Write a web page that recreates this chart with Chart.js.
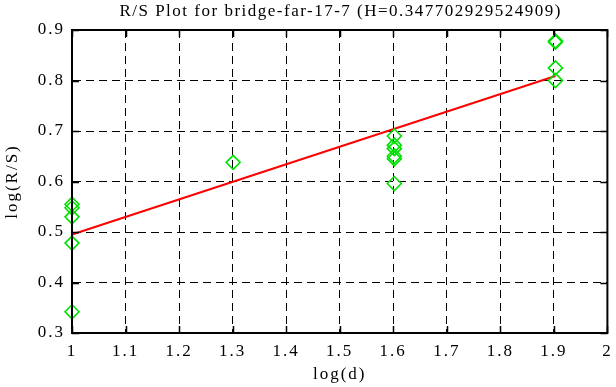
<!DOCTYPE html>
<html>
<head>
<meta charset="utf-8">
<script src="https://cdn.jsdelivr.net/npm/chart.js@4/dist/chart.umd.min.js"></script>
<style>
  html, body { margin: 0; padding: 0; background: #fff; }
  #wrap { width: 616px; height: 387px; }
</style>
</head>
<body>
<div id="wrap"><canvas id="rsChart" width="616" height="387"></canvas></div>
<script>
// R/S samples: log(d) against log(R/S)
const logD  = [1, 1, 1, 1, 1, 1.301, 1.602, 1.602, 1.602, 1.602, 1.602, 1.602, 1.903, 1.903, 1.903, 1.903];
const logRS = [0.555, 0.548, 0.53, 0.478, 0.342, 0.638, 0.69, 0.672, 0.665, 0.65, 0.645, 0.596, 0.878, 0.876, 0.825, 0.80];

// fitted line end points
const fitX = [1, 1.903];
const fitY = [0.495, 0.809];

const xTicks = [1, 1.1, 1.2, 1.3, 1.4, 1.5, 1.6, 1.7, 1.8, 1.9, 2];
const yTicks = [0.3, 0.4, 0.5, 0.6, 0.7, 0.8, 0.9];

const titleText = "R/S Plot for bridge-far-17-7 (H=0.347702929524909)";
const serif = "'Liberation Serif', 'DejaVu Serif', serif";

// gnuplot text is wider spaced than the browser serif
const spacing = {
    id: "spacing",
    beforeLayout(chart) { chart.ctx.letterSpacing = "2px"; },
    beforeDraw(chart) { chart.ctx.letterSpacing = "2px"; }
};

// gnuplot-like frame, inward ticks and title
const framePlugin = {
    id: "frame",
    afterDraw(chart) {
        const { ctx, chartArea: a, scales } = chart;
        ctx.save();
        ctx.strokeStyle = "#000";
        ctx.lineWidth = 1.5;
        ctx.setLineDash([]);
        ctx.beginPath();
        xTicks.forEach(v => {
            const px = Math.round(scales.x.getPixelForValue(v)) + 0.5;
            ctx.moveTo(px, a.bottom); ctx.lineTo(px, a.bottom - 7);
            ctx.moveTo(px, a.top); ctx.lineTo(px, a.top + 7);
        });
        yTicks.forEach(v => {
            const py = Math.round(scales.y.getPixelForValue(v)) + 0.5;
            ctx.moveTo(a.left, py); ctx.lineTo(a.left + 7, py);
            ctx.moveTo(a.right, py); ctx.lineTo(a.right - 7, py);
        });
        ctx.stroke();
        ctx.lineWidth = 2;
        ctx.strokeRect(a.left, a.top, a.right - a.left, a.bottom - a.top);

        ctx.fillStyle = "#000";
        ctx.font = "17px " + serif;
        ctx.letterSpacing = "1.5px";
        ctx.textAlign = "center";
        ctx.textBaseline = "middle";
        ctx.fillText(titleText, (a.left + a.right) / 2 + 1, 12);
        ctx.restore();
    }
};

const ctx = document.getElementById("rsChart").getContext("2d");

new Chart(ctx, {
    type: "scatter",
    data: {
        datasets: [
            {
                label: "fit",
                data: fitX.map((x, i) => ({ x: x, y: fitY[i] })),
                showLine: true,
                borderColor: "#ff0000",
                borderWidth: 2,
                pointRadius: 0,
                clip: false,
                order: 2
            },
            {
                label: "R/S",
                data: logD.map((x, i) => ({ x: x, y: logRS[i] })),
                pointStyle: "rectRot",
                pointRadius: 7,
                borderColor: "#00e000",
                backgroundColor: "rgba(0,0,0,0)",
                borderWidth: 1.6,
                clip: false,
                order: 1
            }
        ]
    },
    options: {
        responsive: false,
        animation: false,
        layout: { padding: { top: 30, right: 0, left: 0, bottom: 0 } },
        plugins: {
            legend: { display: false },
            tooltip: { enabled: false }
        },
        scales: {
            x: {
                type: "linear",
                min: 1,
                max: 2,
                afterBuildTicks: s => { s.ticks = xTicks.map(v => ({ value: v })); },
                afterFit: s => { s.height = 54; s.paddingRight = 6; s.paddingLeft = 0; },
                ticks: {
                    color: "#000",
                    padding: 8,
                    maxRotation: 0,
                    font: { family: serif, size: 17 },
                    callback: v => String(v)
                },
                grid: { color: "#000", lineWidth: 1, drawTicks: false },
                border: { color: "#000", width: 2, dash: [8, 5] },
                title: {
                    display: true,
                    text: "log(d)",
                    color: "#000",
                    padding: { top: 0, bottom: 2 },
                    font: { family: serif, size: 17 }
                }
            },
            y: {
                type: "linear",
                min: 0.3,
                max: 0.9,
                afterBuildTicks: s => { s.ticks = yTicks.map(v => ({ value: v })); },
                afterFit: s => { s.width = 72; },
                ticks: {
                    color: "#000",
                    padding: 7,
                    font: { family: serif, size: 17 },
                    callback: v => String(v)
                },
                grid: { color: "#000", lineWidth: 1, drawTicks: false },
                border: { color: "#000", width: 2, dash: [8, 5] },
                title: {
                    display: true,
                    text: "log(R/S)",
                    color: "#000",
                    padding: { top: 2, bottom: 0 },
                    font: { family: serif, size: 17 }
                }
            }
        }
    },
    plugins: [spacing, framePlugin]
});
</script>
</body>
</html>
